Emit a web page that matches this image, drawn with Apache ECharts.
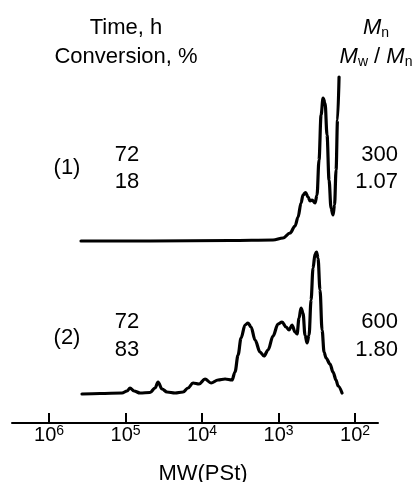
<!DOCTYPE html>
<html>
<head>
<meta charset="utf-8">
<script src="https://cdn.jsdelivr.net/npm/echarts@6/dist/echarts.min.js"></script>
<style>html,body{margin:0;padding:0;background:#fff}#c{width:414px;height:482px}</style>
</head>
<body>
<div id="c"></div>
<script>
// x positions are log10(MW, PSt calibration); intensities in arbitrary units
const logMW1 = [5.582, 4.680, 3.634, 3.072, 2.941, 2.850, 2.784, 2.745, 2.706, 2.680,
  2.647, 2.614, 2.588, 2.562, 2.523, 2.497, 2.471, 2.444, 2.418, 2.392,
  2.366, 2.340, 2.314, 2.288, 2.268, 2.248, 2.229, 2.209];
const trace1 = [0, 0, 0.5, 1, 3, 8, 15, 24, 38, 46,
  48.5, 44, 40, 41, 38, 46, 81, 126, 143, 138,
  106, 61, 33, 26, 36, 71, 121, 164];
const offset1 = 182;

const logMW2 = [5.569, 5.333, 5.046, 4.980, 4.941, 4.889, 4.810, 4.680, 4.614, 4.575,
  4.523, 4.458, 4.353, 4.248, 4.183, 4.118, 4.039, 3.961, 3.882, 3.791,
  3.699, 3.608, 3.569, 3.529, 3.490, 3.438, 3.399, 3.359, 3.307, 3.242,
  3.190, 3.137, 3.072, 3.007, 2.954, 2.902, 2.863, 2.824, 2.784, 2.758,
  2.732, 2.706, 2.680, 2.654, 2.627, 2.601, 2.575, 2.549, 2.523, 2.503,
  2.484, 2.458, 2.431, 2.405, 2.379, 2.327, 2.288, 2.248, 2.222, 2.170];
const trace2 = [-1, -0.5, 0, 2, 5, 2, 0, 0.5, 5, 11,
  4, 1, 0, 1, 5, 10, 9, 14, 10, 13,
  14, 13, 21, 38, 55, 68, 70, 66, 53, 41,
  37, 43, 57, 69, 71, 66, 63, 68, 61, 59,
  75, 85, 80, 58, 50, 58, 93, 125, 139, 141,
  135, 103, 63, 41, 35, 29, 21, 13, 7, 0];
const offset2 = 30;

const tickExponents = [2, 3, 4, 5, 6];
const xTitle = 'MW(PSt)';
const sampleLabels = ['(1)', '(2)'];
const times = ['72', '72'];
const conversions = ['18', '83'];
const mnValues = ['300', '600'];
const dispersities = ['1.07', '1.80'];

const FONT = 'Liberation Sans, Arial, sans-serif';
const chart = echarts.init(document.getElementById('c'), null, {renderer: 'canvas'});

function txt(text, x, y, align) {
  return {
    type: 'text', x: x, y: y, silent: true,
    style: {
      text: text, fill: '#000', font: '22px ' + FONT,
      align: align || 'center', verticalAlign: 'middle'
    }
  };
}
const richM = {
  i: {fontSize: 22, fontStyle: 'italic', fontFamily: FONT, color: '#000'},
  sub: {fontSize: 14, fontFamily: FONT, padding: [11, 0, 0, 0], color: '#000'},
  n: {fontSize: 22, fontFamily: FONT, color: '#000'}
};

const rowY = [[155, 168, 182], [322, 338, 350]];
const graphics = [
  txt('Time, h', 126, 28),
  txt('Conversion, %', 126, 57),
  {type: 'text', x: 376, y: 28, silent: true,
   style: {text: '{i|M}{sub|n}', rich: richM, align: 'center', verticalAlign: 'middle'}},
  {type: 'text', x: 376, y: 57, silent: true,
   style: {text: '{i|M}{sub|w}{n| / }{i|M}{sub|n}', rich: richM, align: 'center', verticalAlign: 'middle'}}
];
for (let k = 0; k < 2; k++) {
  graphics.push(txt(sampleLabels[k], 67, rowY[k][1]));
  graphics.push(txt(times[k], 127, rowY[k][0]));
  graphics.push(txt(conversions[k], 127, rowY[k][2]));
  graphics.push(txt(mnValues[k], 398, rowY[k][0], 'right'));
  graphics.push(txt(dispersities[k], 398, rowY[k][2], 'right'));
}

const lineStyle = {color: '#000', width: 3.2, cap: 'round', join: 'round'};
chart.setOption({
  animation: false,
  backgroundColor: '#fff',
  grid: {left: 12, right: 36, top: 0, bottom: 59, containLabel: false, outerBoundsMode: 'none'},
  xAxis: {
    type: 'value', inverse: true, min: 1.7, max: 6.484,
    name: xTitle, nameLocation: 'middle', nameGap: 40,
    nameTextStyle: {fontSize: 22, fontFamily: FONT, color: '#000', padding: [0, 0, 0, 16]},
    axisLine: {show: true, onZero: false, lineStyle: {color: '#000', width: 2}},
    axisTick: {show: true, inside: true, length: 10, customValues: tickExponents,
               lineStyle: {color: '#000', width: 2}},
    axisLabel: {
      show: true, margin: 1, customValues: tickExponents,
      formatter: v => '{b|10}{s|' + v + '}',
      rich: {
        b: {fontSize: 20, fontFamily: FONT, color: '#000'},
        s: {fontSize: 14, fontFamily: FONT, color: '#000', padding: [0, 0, 8, 0]}
      }
    },
    splitLine: {show: false}
  },
  yAxis: {type: 'value', min: 0, max: 423, show: false},
  series: [
    {type: 'line', data: logMW1.map((x, i) => [x, trace1[i] + offset1]),
     showSymbol: false, smooth: 0.35, smoothMonotone: 'x', lineStyle: lineStyle, silent: true},
    {type: 'line', data: logMW2.map((x, i) => [x, trace2[i] + offset2]),
     showSymbol: false, smooth: 0.35, smoothMonotone: 'x', lineStyle: lineStyle, silent: true}
  ],
  graphic: graphics
});
</script>
</body>
</html>
